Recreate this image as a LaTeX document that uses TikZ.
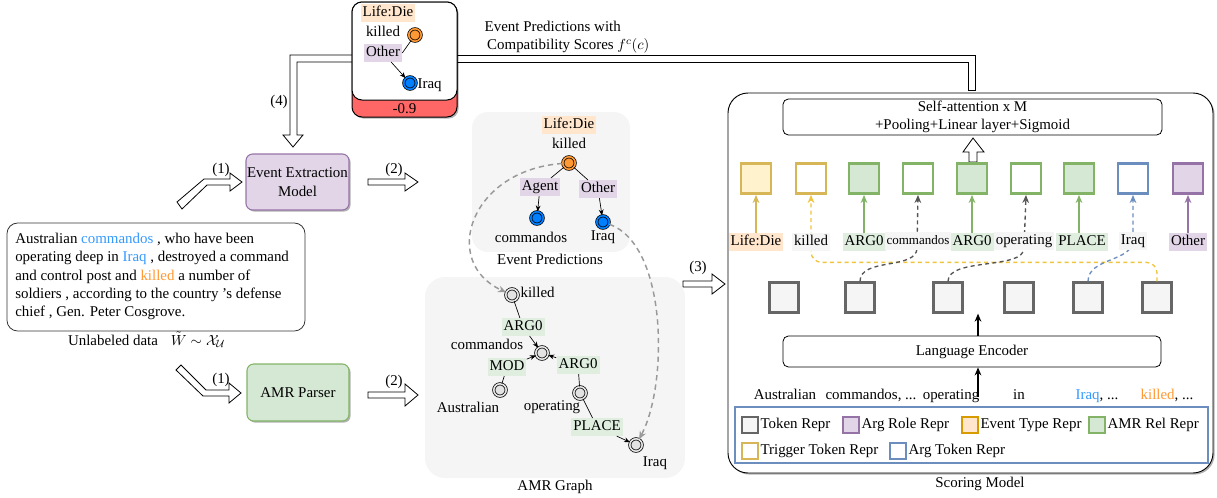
\documentclass[tikz,border=0pt]{standalone}
\usepackage{fontspec}
\setmainfont{Liberation Serif}
\usetikzlibrary{arrows.meta,shadows,calc,fit}
\definecolor{purF}{HTML}{E1D5E7}
\definecolor{purD}{HTML}{9673A6}
\definecolor{grnF}{HTML}{D5E8D4}
\definecolor{grnD}{HTML}{82B366}
\definecolor{yelF}{HTML}{FFF2CC}
\definecolor{yelD}{HTML}{D6B656}
\definecolor{yelDash}{HTML}{F0C43C}
\definecolor{orgF}{HTML}{FFE6CC}
\definecolor{orgD}{HTML}{D79B00}
\definecolor{bluD}{HTML}{6C8EBF}
\definecolor{grayF}{HTML}{F5F5F5}
\definecolor{grayD}{HTML}{666666}
\definecolor{dgray}{HTML}{555555}
\definecolor{lgray}{HTML}{999999}
\definecolor{txtBlue}{HTML}{3399FF}
\definecolor{txtOrg}{HTML}{FF9933}
\definecolor{dotOrg}{HTML}{FF9933}
\definecolor{dotBlu}{HTML}{007FFF}
\definecolor{amrG}{HTML}{E3E3E3}
\definecolor{scoreRed}{HTML}{FF6666}
\newcommand\fs{\fontsize{11.2pt}{13.7pt}\selectfont}
\newcommand\fsm{\fontsize{9.75pt}{11pt}\selectfont}
\begin{document}
\begin{tikzpicture}[x=0.75pt,y=-0.75pt,font=\fs,
  shd/.style={drop shadow={shadow xshift=1.2pt,shadow yshift=-1.2pt,opacity=0.3,fill=black}},
  hol/.style={draw=black,fill=white,line width=0.6pt,line join=miter},
  grp/.style={fill=grayF,draw=none,inner sep=0pt},
  tsq/.style={draw=#1,line width=2.2pt,minimum size=22.5pt,inner sep=0pt},
  bsq/.style={draw=grayD,fill=grayF,line width=2.2pt,minimum size=22pt,inner sep=0pt},
  lsq/.style={draw=#1,line width=1.4pt,minimum size=12pt,inner sep=0pt},
  tag/.style={fill=#1,inner sep=1.5pt,text height=8pt,text depth=2.2pt},
  dc/.style={circle,draw=black,fill=#1,double=#1,double distance=1.2pt,line width=0.55pt,minimum size=9.3pt,inner sep=0pt},
  ar/.style={-{Stealth[length=4.5pt,width=3.6pt]},line width=0.5pt},
  gd/.style={dash pattern=on 4pt off 3pt,draw=lgray,line width=1.1pt,-{Stealth[length=6pt,width=5pt]}},
  sarr/.style={draw=#1,line width=1pt,-{Stealth[length=6pt,width=5pt]}},
  darr/.style={draw=#1,line width=1pt,dash pattern=on 3pt off 2.5pt,-{Stealth[length=6pt,width=5pt]}},
  sbox/.style={inner sep=0pt,draw}
]
\useasboundingbox (0,0) rectangle (1217,497);

% ---------- hollow connectors from the scored prediction ----------
\filldraw[hol] (352,55) -- (290,55) -- (290,135) -- (283,135) -- (293,147) -- (303,135) -- (297,135) -- (297,62) -- (352,62);
\filldraw[hol] (457,55) -- (975,55) -- (975,90) -- (968,90) -- (968,62) -- (457,62);
\node (l4lab) at (279,102) {(4)};

% ---------- scored prediction box ----------
\node[fit={(352,2)(457,117)},sbox,fill=scoreRed,rounded corners=7.5pt,shd,line width=0.75pt] (sbg) {};
\node[fit={(352,2)(457,100)},sbox,fill=white,rounded corners=7.5pt,line width=0.75pt] (sbx) {};
\node (score) at (404.5,109) {-0.9};
\node[tag=orgF] (tld) at (388,13) {Life:Die};
\node (tkl) at (383,31) {killed};
\node[dc=dotOrg] (tko) at (415,35) {};
\node[tag=purF] (tot) at (383,53) {Other};
\node[dc=dotBlu] (tir) at (410,83) {};
\node[anchor=west,inner sep=1pt] (tiq) at (416,85) {Iraq};
\draw[line width=0.5pt] (tko) -- (tot.east);
\draw[ar] (tot) -- (tir);
\node[align=left,anchor=west] (cap) at (480,37) {Event Predictions with\\ \,Compatibility Scores $f^c(c)$};

% ---------- left part ----------
\node[fit={(246,154)(349,210)},sbox,draw=purD,fill=purF,rounded corners=5pt,shd,line width=0.8pt] (eem) {};
\node[align=center] (eemt) at (eem.center) {Event Extraction\\Model};
\node[fit={(247,364)(349,421)},sbox,draw=grnD,fill=grnF,rounded corners=5pt,shd,line width=0.8pt] (amrp) {};
\node (amrpt) at (amrp.center) {AMR Parser};

\node[fit={(7,223)(305,331)},sbox,draw=black!80,rounded corners=8pt,line width=0.6pt] (sent) {};
\node[anchor=north west,align=left,inner sep=0pt] (stxt) at (15,233) {Australian \textcolor{txtBlue}{commandos} , who have been\\
operating deep in \textcolor{txtBlue}{Iraq} , destroyed a command\\
and control post and \textcolor{txtOrg}{killed} a number of\\
soldiers , according to the country 's defense\\
chief , Gen. Peter Cosgrove.};
\node (unl) at (113,340) {Unlabeled data};
\node (unlm) at (198,340) {$\tilde{W}\sim\mathcal{X}_{\mathcal{U}}$};

\filldraw[hol] (177,202) -- (204,179) -- (230,179) -- (230,173) -- (242,182) -- (230,191) -- (230,185) -- (207,185) -- (182,209) -- cycle;
\node (one1) at (221,170) {(1)};
\filldraw[hol] (181,365) -- (206,390) -- (229,390) -- (229,383) -- (241,393) -- (229,403) -- (229,396) -- (203,396) -- (176,370) -- cycle;
\node (one2) at (221,380) {(1)};
\filldraw[hol] (368,179) -- (405,179) -- (405,173) -- (418,182) -- (405,191) -- (405,185) -- (368,185) -- cycle;
\node (two1) at (394,170) {(2)};
\filldraw[hol] (368,392) -- (405,392) -- (405,384) -- (418,395) -- (405,406) -- (405,398) -- (368,398) -- cycle;
\node (two2) at (394,382) {(2)};
\filldraw[hol] (683,281) -- (712,281) -- (712,274) -- (725,284) -- (712,294) -- (712,287) -- (683,287) -- cycle;
\node (three) at (698,268) {(3)};

% ---------- event predictions ----------
\node[fit={(472,112)(630,252)},grp,rounded corners=12pt] (epg) {};
\node (eplab) at (550,259) {Event Predictions};
\node[tag=orgF] (eld) at (569,125) {Life:Die};
\node (ekl) at (569,143) {killed};
\node[dc=dotOrg] (eko) at (569,163) {};
\node[tag=purF] (eag) at (540,187) {Agent};
\node[tag=purF] (eot) at (598,189) {Other};
\node[dc=dotBlu] (eco) at (537,218) {};
\node (ecl) at (531,237) {commandos};
\node[dc=dotBlu] (eir) at (603,222) {};
\node (eil) at (603,237) {Iraq};
\draw[line width=0.5pt] (eko) -- (eag);
\draw[ar] (eag) -- (eco);
\draw[line width=0.5pt] (eko) -- (eot);
\draw[ar] (eot) -- (eir);

% ---------- AMR graph ----------
\node[fit={(425,277)(685,478)},grp,rounded corners=15pt] (ag) {};
\node (aglab) at (555,487) {AMR Graph};
\node[dc=amrG] (akil) at (512,295) {};
\node[anchor=west,inner sep=1pt] (akl) at (519,292) {killed};
\node[dc=amrG] (acom) at (542,353) {};
\node (acl) at (487,344) {commandos};
\node[dc=amrG] (aaus) at (500,390) {};
\node (aal) at (468,407) {Australian};
\node[dc=amrG] (aop) at (580,393) {};
\node (aol) at (552,407) {operating};
\node[dc=amrG] (airq) at (636,445) {};
\node (ail) at (655,463) {Iraq};
\node[tag=grnF!75] (e1) at (523,327) {ARG0};
\node[tag=grnF!75] (e2) at (507,367) {MOD};
\node[tag=grnF!75] (e3) at (578,365) {ARG0};
\node[tag=grnF!75] (e4) at (597,427) {PLACE};
\draw[line width=0.5pt] (akil) -- (e1);
\draw[ar] (e1) -- (acom);
\draw[line width=0.5pt] (aaus) -- (e2);
\draw[ar] (e2) -- (acom);
\draw[line width=0.5pt] (aop) -- (e3);
\draw[ar] (e3) -- (acom);
\draw[line width=0.5pt] (aop) -- (e4);
\draw[ar] (e4) -- (airq);

\draw[gd] (eko) .. controls (470,170) and (440,262) .. (akil);
\draw[gd] (eir) .. controls (668,245) and (668,385) .. (airq);

% ---------- scoring model ----------
\node[fit={(728,93)(1213,473)},sbox,fill=white,rounded corners=15pt,shd,line width=0.7pt] (sm) {};
\node (smlab) at (980,484) {Scoring Model};
\node[fit={(783,99)(1162,135)},sbox,rounded corners=4pt,line width=0.6pt] (sa) {};
\node[align=center] (satxt) at (sa.center) {Self-attention x M\\+Pooling+Linear layer+Sigmoid};
\filldraw[hol] (969,162) -- (969,152) -- (963,152) -- (973,138) -- (984,152) -- (977,152) -- (977,162) -- cycle;

\node[tsq=yelD,fill=yelF] (t1) at (756,178.5) {};
\node[tsq=yelD,fill=white] (t2) at (811,178.5) {};
\node[tsq=grnD,fill=grnF] (t3) at (864,178.5) {};
\node[tsq=grnD,fill=white] (t4) at (918,178.5) {};
\node[tsq=grnD,fill=grnF] (t5) at (972,178.5) {};
\node[tsq=grnD,fill=white] (t6) at (1026,178.5) {};
\node[tsq=grnD,fill=grnF] (t7) at (1079,178.5) {};
\node[tsq=bluD,fill=white] (t8) at (1133,178.5) {};
\node[tsq=purD,fill=purF] (t9) at (1188,178.5) {};

\node[bsq] (b1) at (784,297.5) {};
\node[bsq] (b2) at (860,297.5) {};
\node[bsq] (b3) at (948,297.5) {};
\node[bsq] (b4) at (1019,297.5) {};
\node[bsq] (b5) at (1088,297.5) {};
\node[bsq] (b6) at (1157,297.5) {};

\draw[darr=yelDash,rounded corners=8pt] (b6.north) -- ++(0,-19) -| (t2.south);
\draw[darr=dgray] (b2.north) .. controls +(0,-24) and +(0,22) .. (917,248) -- (t4.south);
\draw[darr=dgray] (b3.north) .. controls +(0,-24) and +(0,22) .. (1024,248) -- (t6.south);
\draw[darr=bluD] (b5.north) .. controls +(0,-24) and +(0,22) .. (1133,240) -- (t8.south);

\node[tag=orgF] (l1) at (756,242) {Life:Die};
\node[tag=grayF] (l2) at (811,242) {killed};
\node[tag=grnF!75] (l3) at (864,242) {ARG0};
\node[tag=grayF,font=\fsm] (l4) at (918,241) {commandos};
\node[tag=grnF!75] (l5) at (972,242) {ARG0};
\node[tag=grayF] (l6) at (1024,241) {operating};
\node[tag=grnF!75] (l7) at (1082,242) {PLACE};
\node[tag=grayF] (l8) at (1133,241) {Iraq};
\node[tag=purF] (l9) at (1188,242) {Other};
\draw[sarr=yelD] (l1) -- (t1);
\draw[sarr=grnD] (l3) -- (t3);
\draw[sarr=grnD] (l5) -- (t5);
\draw[sarr=grnD] (l7.north -| t7) -- (t7);
\draw[sarr=purD] (l9) -- (t9);

\node[fit={(783,336)(1161,367)},sbox,rounded corners=4pt,line width=0.6pt] (le) {};
\node (letxt) at (le.center) {Language Encoder};
\coordinate (ina) at (978,397);
\draw[-{Stealth[length=6pt,width=5pt]},line width=1.2pt] (ina) -- (ina |- le.south);
\draw[-{Stealth[length=6pt,width=5pt]},line width=1.2pt] (le.north -| ina) -- (ina |- b1.south);

\node[anchor=base] (w1) at (785,399) {Australian};
\node[anchor=base] (w2) at (871,399) {commandos, ...};
\node[anchor=base] (w3) at (951,399) {operating};
\node[anchor=base] (w4) at (1019,399) {in};
\node[anchor=base] (w5) at (1097,399) {\textcolor{txtBlue}{Iraq}, ...};
\node[anchor=base] (w6) at (1167,399) {\textcolor{txtOrg}{killed}, ...};

% legend
\node[fit={(735,407)(1208,463)},sbox,draw=bluD,line width=1.1pt] (leg) {};
\node[lsq=grayD,fill=grayF] (k1) at (750,425) {};
\node[anchor=west,inner sep=1pt] (k1t) at (k1.east) {Token Repr};
\node[lsq=purD,fill=purF] (k2) at (851,425) {};
\node[anchor=west,inner sep=1pt] (k2t) at (k2.east) {Arg Role Repr};
\node[lsq=orgD,fill=orgF] (k3) at (970,425) {};
\node[anchor=west,inner sep=1pt] (k3t) at (k3.east) {Event Type Repr};
\node[lsq=grnD,fill=grnF] (k4) at (1097,425) {};
\node[anchor=west,inner sep=1pt] (k4t) at (k4.east) {AMR Rel Repr};
\node[lsq=yelD,fill=white] (k5) at (750,451) {};
\node[anchor=west,inner sep=1pt] (k5t) at (k5.east) {Trigger Token Repr};
\node[lsq=bluD,fill=white] (k6) at (898,451) {};
\node[anchor=west,inner sep=1pt] (k6t) at (k6.east) {Arg Token Repr};
\end{tikzpicture}
\end{document}
